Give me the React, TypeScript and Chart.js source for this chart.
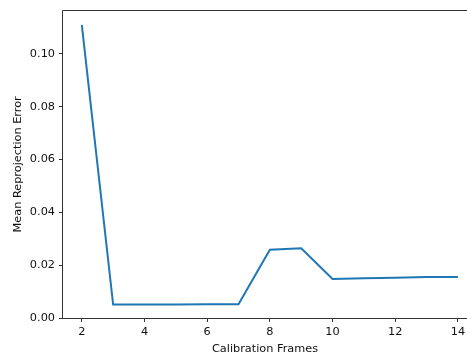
import React, { useEffect, useRef } from "react";
import { Chart, registerables } from "chart.js";

Chart.register(...registerables);

// Number of calibration frames used
const frames = [2, 3, 4, 5, 6, 7, 8, 9, 10, 11, 12, 13, 14];
// Mean reprojection error for each frame count
const meanError = [
  0.111, 0.0051, 0.0051, 0.0051, 0.0052, 0.0052, 0.0258, 0.0264, 0.0148,
  0.015, 0.0152, 0.0155, 0.0155,
];
const xTicks = [2, 4, 6, 8, 10, 12, 14];
const yTicks = [0, 0.02, 0.04, 0.06, 0.08, 0.1];
// Visible x range (the right side of the frame runs off the canvas edge)
const xRange = [1.4, 14.29];

const FONT = "'DejaVu Sans', sans-serif";
const TEXT = "#111";
const SPINE = "#333";

// Left, top and bottom edges of the axes frame; the right side stays open
const spines = {
  id: "spines",
  afterDraw(chart: any) {
    const { left, top, bottom } = chart.chartArea;
    const ctx = chart.ctx;
    const w = chart.width;
    ctx.save();
    ctx.fillStyle = "#fff";
    ctx.fillRect(w - 6, top + 1, 7, bottom - top - 2);
    ctx.strokeStyle = SPINE;
    ctx.lineWidth = 1;
    ctx.beginPath();
    const yt = Math.round(top) - 0.5;
    const yb = Math.round(bottom) + 0.5;
    const x = Math.round(left) - 0.5;
    ctx.moveTo(w + 5, yt);
    ctx.lineTo(x, yt);
    ctx.lineTo(x, yb);
    ctx.lineTo(w + 5, yb);
    ctx.stroke();
    ctx.restore();
  },
};

export default function App() {
  const ref = useRef<HTMLCanvasElement | null>(null);

  useEffect(() => {
    if (!ref.current) return;
    const yMax =
      Math.max(...meanError) +
      0.05 * (Math.max(...meanError) - Math.min(...meanError));

    const tickGrid = {
      display: true,
      drawOnChartArea: false,
      drawTicks: true,
      tickLength: 4,
      color: SPINE,
    };

    const chart = new Chart(ref.current, {
      type: "line",
      data: {
        datasets: [
          {
            data: frames.map((f, i) => ({ x: f, y: meanError[i] })),
            borderColor: "#1f77b4",
            borderWidth: 2,
            pointRadius: 0,
            tension: 0,
            fill: false,
          },
        ],
      },
      options: {
        animation: false,
        responsive: false,
        devicePixelRatio: 1,
        layout: { padding: { top: 10, left: 0, right: 0, bottom: 0 } },
        plugins: {
          legend: { display: false },
          tooltip: { enabled: false },
        },
        scales: {
          x: {
            type: "linear",
            min: xRange[0],
            max: xRange[1],
            afterBuildTicks: (s: any) => {
              s.ticks = xTicks.map((v) => ({ value: v }));
            },
            afterFit: (s: any) => {
              s.height = 38;
              s.paddingRight = 0;
            },
            grid: tickGrid,
            border: { display: false },
            ticks: {
              padding: 3,
              color: TEXT,
              font: { family: FONT, size: 11.3 },
              maxRotation: 0,
              callback: (v: any) => String(v),
            },
            title: {
              display: true,
              text: "Calibration Frames",
              color: TEXT,
              font: { family: FONT, size: 11.3 },
              padding: { top: 0, bottom: 0 },
            },
          },
          y: {
            type: "linear",
            min: 0,
            max: yMax,
            afterBuildTicks: (s: any) => {
              s.ticks = yTicks.map((v) => ({ value: v }));
            },
            afterFit: (s: any) => {
              s.width = 63;
            },
            grid: tickGrid,
            border: { display: false },
            ticks: {
              padding: 4,
              color: TEXT,
              font: { family: FONT, size: 11.3 },
              callback: (v: any) => Number(v).toFixed(2),
            },
            title: {
              display: true,
              text: "Mean Reprojection Error",
              color: TEXT,
              font: { family: FONT, size: 11.3 },
              padding: { top: 11, bottom: 0 },
            },
          },
        },
      },
      plugins: [spines],
    });
    return () => chart.destroy();
  }, []);

  return (
    <div
      style={{
        position: "fixed",
        left: 0,
        top: 0,
        width: 467,
        height: 356,
        overflow: "hidden",
        background: "#fff",
      }}
    >
      <canvas ref={ref} width={467} height={356} style={{ display: "block" }} />
    </div>
  );
}
